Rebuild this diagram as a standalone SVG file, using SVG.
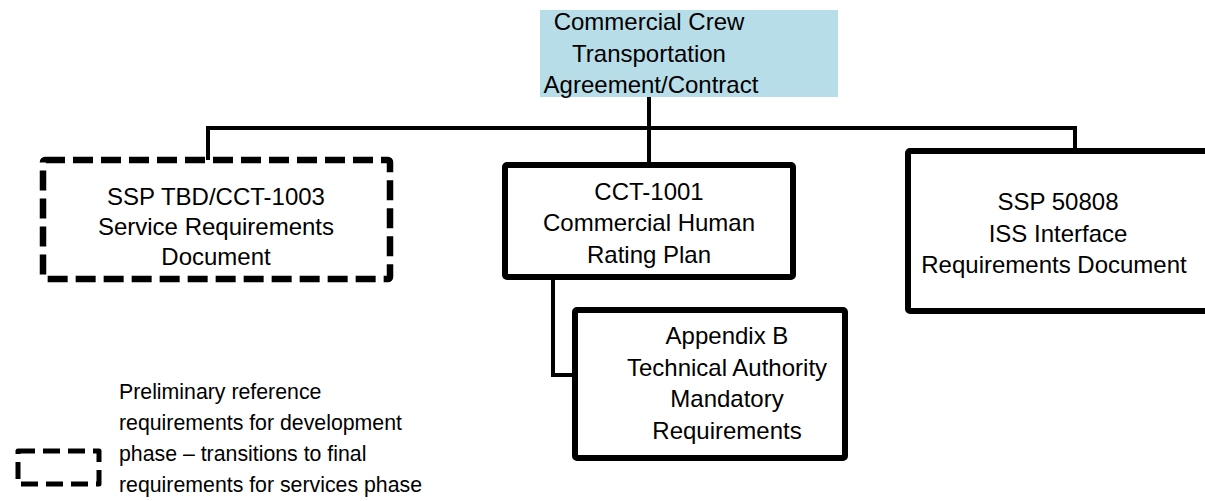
<svg xmlns="http://www.w3.org/2000/svg" width="1205" height="501" viewBox="0 0 1205 501">
  <style>
    .t { font-family: "Liberation Sans", Arial, sans-serif; font-size: 24px; fill: #000; text-anchor: middle; }
    .lg { font-family: "Liberation Sans", Arial, sans-serif; font-size: 21.3px; fill: #000; }
    .box { fill: #fff; stroke: #000; stroke-width: 6; stroke-linejoin: round; }
    .dash { fill: #fff; stroke: #000; stroke-width: 6.5; stroke-dasharray: 20 8; stroke-linejoin: round; }
    .conn { fill: none; stroke: #000; stroke-width: 4; stroke-linejoin: miter; }
  </style>
  <rect width="1205" height="501" fill="#fff"/>

  <g id="connectors">
    <path class="conn" d="M649 97 V163"/>
    <path class="conn" d="M208 160 V128 H1075 V163"/>
    <path class="conn" d="M553 279 V375 H575"/>
  </g>

  <g id="node-contract">
    <rect x="540" y="10" width="298" height="87" fill="#B7DDE8"/>
    <text class="t" x="649" y="29.5">Commercial Crew</text>
    <text class="t" x="649" y="61.5">Transportation</text>
    <text class="t" x="651" y="92.5">Agreement/Contract</text>
  </g>

  <g id="node-ssp-tbd">
    <rect class="dash" x="43" y="160" width="347" height="119" rx="2"/>
    <text class="t" x="216" y="205">SSP TBD/CCT-1003</text>
    <text class="t" x="216" y="235">Service Requirements</text>
    <text class="t" x="216" y="264.5">Document</text>
  </g>

  <g id="node-cct-1001">
    <rect class="box" x="505" y="165" width="288" height="112" rx="2"/>
    <text class="t" x="649" y="199.5">CCT-1001</text>
    <text class="t" x="649" y="231">Commercial Human</text>
    <text class="t" x="649" y="262.5">Rating Plan</text>
  </g>

  <g id="node-ssp-50808">
    <rect class="box" x="908" y="151" width="310" height="160" rx="2"/>
    <text class="t" x="1058" y="210">SSP 50808</text>
    <text class="t" x="1058" y="241.5">ISS Interface</text>
    <text class="t" x="1054" y="273.3">Requirements Document</text>
  </g>

  <g id="node-appendix-b">
    <rect class="box" x="575" y="310" width="270" height="148" rx="2"/>
    <text class="t" x="727" y="344">Appendix B</text>
    <text class="t" x="727" y="375.5">Technical Authority</text>
    <text class="t" x="727" y="407">Mandatory</text>
    <text class="t" x="727" y="438.5">Requirements</text>
  </g>

  <g id="legend">
    <rect x="18" y="451" width="81" height="33" fill="none" stroke="#000" stroke-width="5" stroke-dasharray="17 8" stroke-linejoin="round"/>
    <text class="lg" x="119" y="399">Preliminary reference</text>
    <text class="lg" x="119" y="430">requirements for development</text>
    <text class="lg" x="119" y="461">phase – transitions to final</text>
    <text class="lg" x="119" y="492">requirements for services phase</text>
  </g>
</svg>
